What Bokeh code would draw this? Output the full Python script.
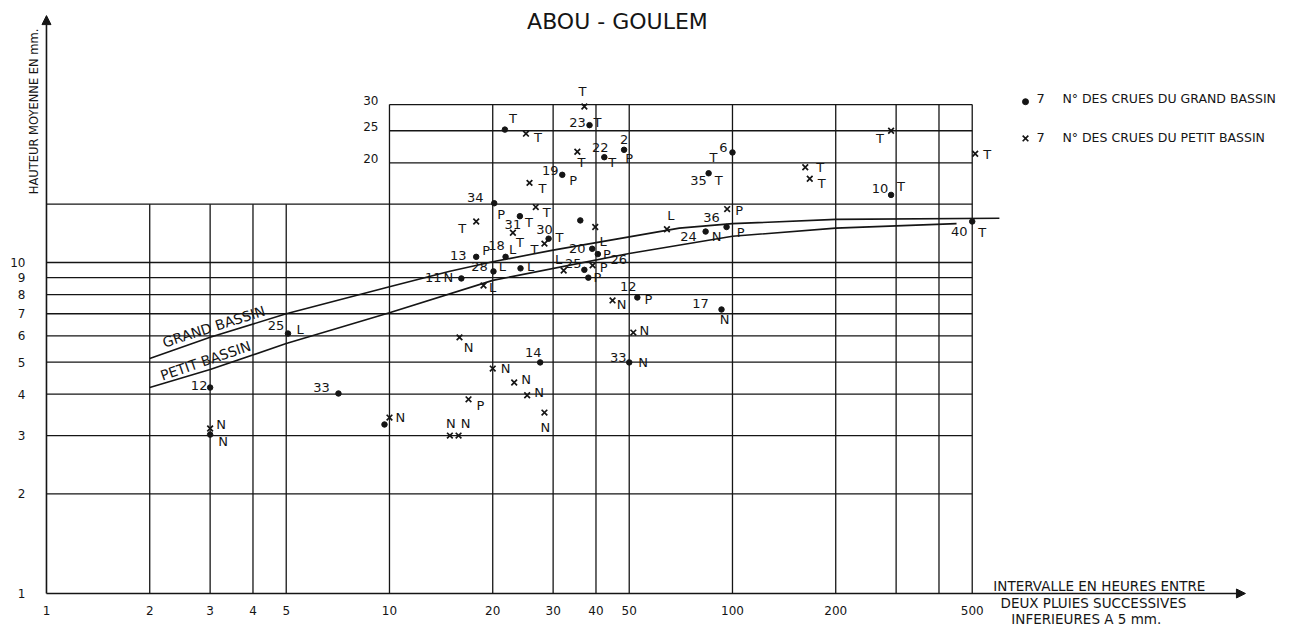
from bokeh.plotting import figure
from bokeh.models import Range1d, FixedTicker, ColumnDataSource, Arrow, NormalHead
from bokeh.core.properties import value
from bokeh.embed import file_html
from bokeh.resources import INLINE

# ---------------- data ----------------
x_ticks = [1, 2, 3, 4, 5, 10, 20, 30, 40, 50, 100, 200, 500]
x_tick_labels = ["1", "2", "3", "4", "5", "10", "20", "30", "40", "50", "100", "200", "500"]
y_ticks = [1, 2, 3, 4, 5, 6, 7, 8, 9, 10]
y_tick_labels = ["1", "2", "3", "4", "5", "6", "7", "8", "9", "10"]
y_upper_ticks = [20, 25, 30]
y_upper_labels = ["20", "25", "30"]

grid_x_short = [2, 3, 4, 5]
grid_x_tall = [10, 20, 30, 40, 50, 100, 200, 300, 400, 500]
grid_y_low = [2, 3, 4, 5, 6, 7, 8, 9, 10, 15]
grid_y_high = [20, 25, 30]

grand_x = [2, 3, 5, 10, 15, 20, 30, 50, 70, 100, 200, 600]
grand_y = [5.13, 5.94, 7.0, 8.45, 9.41, 10.05, 10.9, 11.95, 12.7, 13.1, 13.5, 13.6]
petit_x = [2, 3, 5, 10, 20, 50, 100, 200, 450]
petit_y = [4.19, 4.75, 5.69, 7.05, 8.83, 10.65, 12.0, 12.7, 13.1]

# grand bassin (dots)
gb_x = [3.0, 3.0, 5.06, 7.1, 9.67, 27.5, 50.0, 92.9, 52.8, 16.2, 20.1, 24.1, 37.0, 38.0,
        21.8, 17.9, 39.0, 40.5, 24.0, 29.1, 20.2, 36.0, 31.9, 21.7, 38.3, 42.3, 48.3,
        100.0, 85.2, 96.1, 83.5, 290.0, 500.0]
gb_y = [4.19, 3.02, 6.1, 4.02, 3.24, 4.99, 4.99, 7.21, 7.84, 8.95, 9.4, 9.6, 9.5, 9.0,
        10.4, 10.4, 11.0, 10.6, 13.8, 11.8, 15.1, 13.4, 18.4, 25.2, 26.0, 20.8, 21.9,
        21.5, 18.6, 12.8, 12.4, 16.0, 13.3]
gb_num = ["12", "", "25", "33", "", "14", "33", "17", "12", "11", "28", "", "25", "",
          "18", "13", "20", "26", "31", "30", "34", "", "19", "", "23", "22", "2",
          "6", "35", "36", "24", "10", "40"]
gb_code = ["", "N", "L", "", "", "", "N", "N", "P", "N", "L", "L", "", "P",
           "L", "P", "L", "P", "T", "T", "P", "", "P", "T", "T", "T", "P",
           "T", "T", "P", "N", "T", "T"]

# petit bassin (crosses)
pb_x = [3.0, 10.0, 16.0, 20.0, 23.1, 25.2, 28.3, 17.0, 15.0, 15.9, 51.4, 44.7, 18.8, 32.2,
        39.1, 64.4, 96.5, 28.3, 22.9, 17.9, 26.7, 39.8, 25.6, 25.0, 35.3, 37.0, 163.0,
        168.0, 290.0, 510.0]
pb_y = [3.15, 3.4, 5.94, 4.78, 4.34, 3.97, 3.52, 3.86, 3.0, 3.0, 6.14, 7.68, 8.52, 9.46,
        9.8, 12.6, 14.5, 11.4, 12.3, 13.3, 14.7, 12.8, 17.4, 24.5, 21.6, 29.6, 19.4,
        17.9, 25.0, 21.3]
pb_code = ["N", "N", "N", "N", "N", "N", "N", "P", "N", "N", "N", "N", "L", "L",
           "P", "L", "P", "T", "T", "T", "T", "", "T", "T", "T", "T", "T",
           "T", "T", "T"]

# ---------------- label placement (screen px offsets) ----------------
gb_num_off = [(-11, -2), (0, 0), (-12, -8), (-17, -6), (0, 0), (-7, -10), (-11, -5), (-21, -6),
              (-9, -11), (-28, -1), (-14, -5), (0, 0), (-11, -6), (0, 0), (-9, -11), (-18, -1),
              (-15, 0), (21, 5), (-7, 8), (-4, -9), (-19, -6), (0, 0), (-12, -4), (0, 0),
              (-12, -3), (-4, -10), (0, -10), (-9, -5), (-10, 7), (-15, -9), (-17, 5), (-11, -6),
              (-13, 10)]
gb_code_off = [(0, 0), (13, 7), (12, -4), (0, 0), (0, 0), (0, 0), (14, 0), (3, 10),
               (11, 2), (-13, -1), (9, -5), (10, -2), (0, 0), (9, 0), (7, -7), (10, -6),
               (11, -7), (9, 0), (9, 6), (11, -1), (7, 11), (0, 0), (11, 6), (8, -11),
               (8, -3), (8, 5), (5, 9), (-19, 5), (10, 7), (14, 6), (11, 5), (10, -8),
               (10, 11)]
pb_code_off = [(11, -4), (11, 0), (9, 10), (13, 0), (12, -3), (12, -3), (1, 15), (12, 6),
               (1, -12), (7, -12), (11, -2), (9, 4), (9, 2), (-5, -11), (11, 2), (4, -14),
               (12, 1), (-10, 6), (7, 10), (-14, 7), (11, 5), (0, 0), (13, 6), (12, 4),
               (4, 11), (-2, -15), (15, 0), (12, 5), (-11, 8), (12, 1)]

INK = "#151515"
FONT = value("DejaVu Sans")

p = figure(width=1289, height=627, x_axis_type="log", y_axis_type="log",
           x_axis_location=None,
           x_range=Range1d(0.8804, 4207.0), y_range=Range1d(0.7893, 61.87),
           output_backend="svg", toolbar_location=None,
           min_border=0, min_border_left=27, min_border_bottom=0,
           min_border_top=0, min_border_right=0)
p.outline_line_color = None
p.xgrid.grid_line_color = None
p.ygrid.grid_line_color = None
p.background_fill_color = "white"
p.border_fill_color = "white"

ax = p.yaxis[0]
ax.ticker = FixedTicker(ticks=y_ticks)
ax.major_label_overrides = {t: l for t, l in zip(y_ticks, y_tick_labels)}
ax.axis_line_color = None
ax.major_tick_line_color = None
ax.minor_tick_line_color = None
ax.major_tick_out = 0
ax.major_tick_in = 0
ax.minor_tick_out = 0
ax.major_label_text_font = "DejaVu Sans"
ax.major_label_text_font_size = "12px"
ax.major_label_text_color = INK
ax.major_label_standoff = 2

# x tick labels, placed through the x scale
p.text(x=x_ticks, y=[1] * len(x_ticks), text=x_tick_labels, y_offset=17,
       text_align="center", text_baseline="middle", text_font=FONT,
       text_font_size="12px", text_color=INK)

# ---------------- grid ----------------
lw = 1.3
p.segment(x0=[1] * len(grid_y_low), y0=grid_y_low, x1=[500] * len(grid_y_low), y1=grid_y_low,
          line_color=INK, line_width=lw)
p.segment(x0=[10] * len(grid_y_high), y0=grid_y_high, x1=[500] * len(grid_y_high), y1=grid_y_high,
          line_color=INK, line_width=lw)
p.segment(x0=grid_x_short, y0=[1] * len(grid_x_short), x1=grid_x_short, y1=[15] * len(grid_x_short),
          line_color=INK, line_width=lw)
p.segment(x0=grid_x_tall, y0=[1] * len(grid_x_tall), x1=grid_x_tall, y1=[30] * len(grid_x_tall),
          line_color=INK, line_width=lw)

# axes with arrows
p.add_layout(Arrow(x_start=1, y_start=1, x_end=3130, y_end=1, line_color=INK, line_width=1.6,
                   end=NormalHead(size=9, fill_color=INK, line_color=INK)))
p.add_layout(Arrow(x_start=1, y_start=1, x_end=1, y_end=55.7, line_color=INK, line_width=1.6,
                   end=NormalHead(size=9, fill_color=INK, line_color=INK)))

# upper y labels
p.text(x=[10] * 3, y=y_upper_ticks, text=y_upper_labels, x_offset=-11, y_offset=-4,
       text_align="right", text_baseline="middle", text_font=FONT, text_font_size="12px",
       text_color=INK)

# ---------------- curves ----------------
p.line(grand_x, grand_y, line_color=INK, line_width=1.6)
p.line(petit_x, petit_y, line_color=INK, line_width=1.6)
p.text(x=[3.12], y=[6.3], text=["GRAND  BASSIN"], angle=0.31, y_offset=-3, text_align="center",
       text_baseline="middle", text_font=FONT, text_font_size="14px", text_color=INK)
p.text(x=[2.95], y=[4.97], text=["PETIT  BASSIN"], angle=0.33, y_offset=-3, text_align="center",
       text_baseline="middle", text_font=FONT, text_font_size="14px", text_color=INK)

# ---------------- points ----------------
gb_src = ColumnDataSource(dict(
    x=gb_x, y=gb_y, num=gb_num, code=gb_code,
    ndx=[o[0] for o in gb_num_off], ndy=[o[1] for o in gb_num_off],
    cdx=[o[0] for o in gb_code_off], cdy=[o[1] for o in gb_code_off]))
pb_src = ColumnDataSource(dict(
    x=pb_x, y=pb_y, code=pb_code,
    cdx=[o[0] for o in pb_code_off], cdy=[o[1] for o in pb_code_off]))

p.scatter("x", "y", source=gb_src, marker="circle", size=5.5, fill_color=INK, line_color=INK)
p.scatter("x", "y", source=pb_src, marker="x", size=8, line_color=INK, line_width=1.7)

txt = dict(text_align="center", text_baseline="middle", text_font=FONT,
           text_font_size="13px", text_color=INK)
p.text(x="x", y="y", text="num", x_offset="ndx", y_offset="ndy", source=gb_src, **txt)
p.text(x="x", y="y", text="code", x_offset="cdx", y_offset="cdy", source=gb_src, **txt)
p.text(x="x", y="y", text="code", x_offset="cdx", y_offset="cdy", source=pb_src, **txt)

# ---------------- title, axis titles, legend ----------------
p.text(x=[46.2], y=[53.5], text=["ABOU - GOULEM"], text_align="center", text_baseline="middle",
       text_font=FONT, text_font_size="22px", text_color=INK)
p.text(x=[0.9166], y=[28.6], text=["HAUTEUR MOYENNE EN mm."], angle=1.5708,
       text_align="center", text_baseline="middle", text_font=FONT, text_font_size="11.5px",
       text_color=INK)
p.text(x=[1191, 1128, 1091], y=[1.057, 0.933, 0.840],
       text=["INTERVALLE EN  HEURES ENTRE", "DEUX PLUIES SUCCESSIVES", "INFERIEURES A  5 mm."],
       text_align="center", text_baseline="middle", text_font=FONT,
       text_font_size="13.5px", text_color=INK)

p.scatter(x=[715], y=[30.6], marker="circle", size=6, fill_color=INK, line_color=INK)
p.scatter(x=[715], y=[23.7], marker="x", size=8, line_color=INK, line_width=1.7)
p.text(x=[791, 791], y=[31.3, 23.8], text=["7", "7"], text_align="center", text_baseline="middle",
       text_font=FONT, text_font_size="13px", text_color=INK)
p.text(x=[916, 916], y=[31.3, 23.8],
       text=["N° DES CRUES DU GRAND BASSIN", "N° DES CRUES DU PETIT BASSIN"],
       text_align="left", text_baseline="middle", text_font=FONT, text_font_size="12.5px",
       text_color=INK)

open("out.html", "w").write(file_html(p, INLINE))
